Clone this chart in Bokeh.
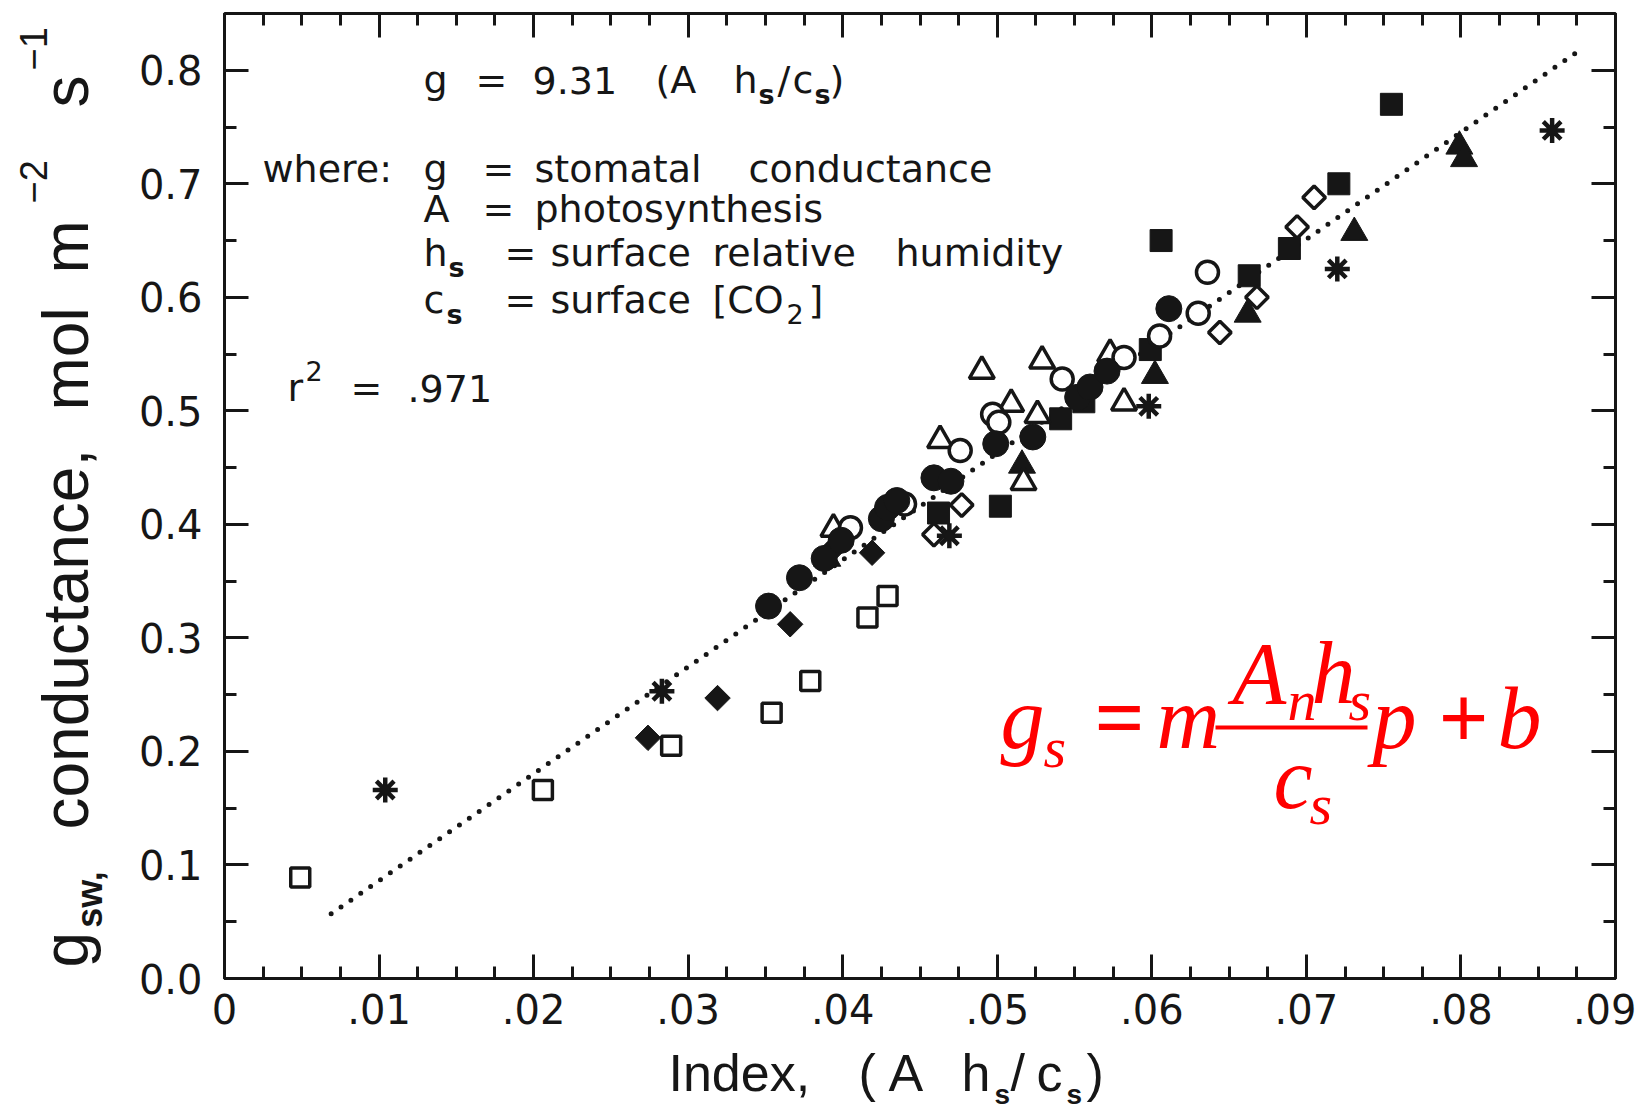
import numpy as np
from bokeh.plotting import figure
from bokeh.layouts import row, column
from bokeh.models import Range1d, FixedTicker, LinearAxis, Label, BoxAnnotation
from bokeh.embed import file_html
from bokeh.resources import INLINE

# ---------------- data ----------------
sq_open_x = [0.0049, 0.0206, 0.0289, 0.0354, 0.0379, 0.0416, 0.0429]
sq_open_y = [0.089, 0.166, 0.205, 0.234, 0.262, 0.318, 0.337]

sq_fill_x = [0.0462, 0.0502, 0.0541, 0.0556, 0.0599, 0.0606, 0.0663, 0.0689, 0.0721, 0.0755]
sq_fill_y = [0.410, 0.416, 0.493, 0.508, 0.554, 0.650, 0.619, 0.643, 0.700, 0.770]

dia_fill_x = [0.0274, 0.0319, 0.0366, 0.0419, 0.0395]
dia_fill_y = [0.212, 0.247, 0.312, 0.375, 0.380]

dia_open_x = [0.0459, 0.0477, 0.0644, 0.0668, 0.0694, 0.0705]
dia_open_y = [0.391, 0.417, 0.569, 0.600, 0.662, 0.688]

circ_fill_x = [0.0352, 0.0372, 0.0388, 0.0399, 0.0425, 0.0429, 0.0435, 0.0459, 0.0470,
               0.0499, 0.0523, 0.0552, 0.0560, 0.0571, 0.0611]
circ_fill_y = [0.328, 0.353, 0.370, 0.386, 0.405, 0.415, 0.421, 0.441, 0.438,
               0.471, 0.477, 0.512, 0.521, 0.535, 0.590]

circ_open_x = [0.0405, 0.0440, 0.0476, 0.0497, 0.0501, 0.0542, 0.0582, 0.0605, 0.0630, 0.0636]
circ_open_y = [0.397, 0.418, 0.465, 0.497, 0.490, 0.528, 0.547, 0.566, 0.586, 0.622]

tri_open_x = [0.0394, 0.0463, 0.0490, 0.0509, 0.0517, 0.0526, 0.0529, 0.0573, 0.0582]
tri_open_y = [0.396, 0.474, 0.535, 0.506, 0.437, 0.496, 0.544, 0.550, 0.507]

tri_fill_x = [0.0390, 0.0516, 0.0602, 0.0662, 0.0731, 0.0799, 0.0802]
tri_fill_y = [0.370, 0.452, 0.531, 0.585, 0.657, 0.733, 0.722]

star_x = [0.0104, 0.0283, 0.0469, 0.0598, 0.0720, 0.0859]
star_y = [0.166, 0.253, 0.390, 0.504, 0.625, 0.747]

fit_x = [0.0069, 0.0874]
fit_y = [0.057, 0.815]

x_ticks = [0.0, 0.01, 0.02, 0.03, 0.04, 0.05, 0.06, 0.07, 0.08, 0.09]
x_tick_labels = ["0", ".01", ".02", ".03", ".04", ".05", ".06", ".07", ".08", ".09"]
y_ticks = [0.0, 0.1, 0.2, 0.3, 0.4, 0.5, 0.6, 0.7, 0.8]
y_tick_labels = ["0.0", "0.1", "0.2", "0.3", "0.4", "0.5", "0.6", "0.7", "0.8"]

# ---------------- layout ----------------
W, H = 1636, 1111
LW = 120            # width of the strip holding the y title
MH = 1043           # height of the main figure
FL, FR, FT, FB = 224, 1615, 13, 978   # frame edges in window pixels
X0, X1, Y0, Y1 = 0.0, 0.09, 0.0, 0.85
INK = "#161616"
SANS = "DejaVu Sans"
TSANS = "Liberation Sans"   # axis titles
MID = 0.35          # distance from text middle to baseline, in em


def xd(px):
    return X0 + (px - FL) / (FR - FL) * (X1 - X0)


def yd(py):
    return Y0 + (FB - py) / (FB - FT) * (Y1 - Y0)


def blank_fig(w, h, xr, yr, top=0, bottom=0):
    f = figure(width=w, height=h, x_range=Range1d(*xr), y_range=Range1d(*yr),
               output_backend="svg", toolbar_location=None,
               x_axis_location=None, y_axis_location=None,
               min_border_left=0, min_border_right=0,
               min_border_top=top, min_border_bottom=bottom)
    f.grid.visible = False
    f.outline_line_color = None
    f.background_fill_color = "white"
    f.border_fill_color = "white"
    return f


p = figure(width=W - LW, height=MH, x_range=Range1d(X0, X1 + 1e-9), y_range=Range1d(Y0, Y1),
           output_backend="svg", toolbar_location=None,
           x_axis_location=None, y_axis_location=None,
           min_border_left=FL - LW, min_border_right=W - FR,
           min_border_top=FT, min_border_bottom=MH - FB)
p.grid.visible = False
p.background_fill_color = "white"
p.border_fill_color = "white"
p.outline_line_color = INK
p.outline_line_width = 3

x_minor = [i * 0.0025 for i in range(37)]
y_minor = [i * 0.05 for i in range(18)]


def make_axis(kind, show_labels):
    ticks, labels, minor = (x_ticks, x_tick_labels, x_minor) if kind == "x" else \
        (y_ticks, y_tick_labels, y_minor)
    if not show_labels:
        labels = [""] * len(ticks)
    ax = LinearAxis(ticker=FixedTicker(ticks=ticks, minor_ticks=minor),
                    major_label_overrides=dict(zip(ticks, labels)))
    ax.axis_line_color = None
    ax.major_tick_line_color = INK
    ax.major_tick_line_width = 3
    ax.major_tick_in = 24
    ax.major_tick_out = 0
    ax.minor_tick_line_color = INK
    ax.minor_tick_line_width = 3
    ax.minor_tick_in = 12
    ax.minor_tick_out = 0
    ax.major_label_text_font = SANS
    ax.major_label_text_color = INK
    if show_labels:
        ax.major_label_text_font_size = "40px"
        ax.major_label_standoff = 15 if kind == "x" else 22
    else:
        ax.major_label_text_font_size = "2px"
        ax.major_label_standoff = 0
    return ax


p.add_layout(make_axis("x", True), "below")
p.add_layout(make_axis("x", False), "above")
p.add_layout(make_axis("y", True), "left")
p.add_layout(make_axis("y", False), "right")

# ---------------- marks ----------------
p.line(fit_x, fit_y, line_color=INK, line_width=5, line_dash="0 12", line_cap="round")

OPEN = dict(fill_color="white", line_color=INK, line_width=3.5)
FILL = dict(fill_color=INK, line_color=INK, line_width=1)

p.scatter(sq_open_x, sq_open_y, marker="square", size=19, **OPEN)
p.scatter(dia_fill_x, dia_fill_y, marker="square", angle=np.pi / 4, size=18, **FILL)
p.scatter(sq_fill_x, sq_fill_y, marker="square", size=22, **FILL)
p.scatter(tri_fill_x, tri_fill_y, marker="triangle", size=27, **FILL)
p.scatter(dia_open_x, dia_open_y, marker="square", angle=np.pi / 4, size=16, **OPEN)
p.scatter(tri_open_x, tri_open_y, marker="triangle", size=25, **OPEN)
p.scatter(circ_open_x, circ_open_y, marker="circle", size=22, **OPEN)
p.scatter(circ_fill_x, circ_fill_y, marker="circle", size=26, **FILL)
p.scatter(star_x, star_y, marker="asterisk", size=25, line_color=INK, line_width=4.5)
p.scatter(star_x, star_y, marker="circle", size=9, **FILL)


# ---------------- texts inside the plot ----------------
def lab(X, Yb, text, size=38, font=SANS, color=INK, style="normal"):
    """X = left edge, Yb = baseline, both in window pixels."""
    p.add_layout(Label(x=xd(X), y=yd(Yb - MID * size), text=text, text_font=font,
                       text_font_size=f"{size}px", text_color=color,
                       text_font_style=style, text_align="left",
                       text_baseline="middle"))


SUB = 27
# line 1
for X, t in [(423, "g"), (475, "="), (532, "9.31"), (655, "(A"), (733, "h"),
             (777, "/"), (792, "c"), (829, ")")]:
    lab(X, 93, t)
lab(758, 103, "s", SUB, style="bold")
lab(814, 103, "s", SUB, style="bold")
# line 2
for X, t in [(262, "where:"), (423, "g"), (482, "="), (534, "stomatal"), (748, "conductance")]:
    lab(X, 182, t)
# line 3
for X, t in [(423, "A"), (482, "="), (534, "photosynthesis")]:
    lab(X, 222, t)
# line 4
for X, t in [(423, "h"), (504, "="), (550, "surface"), (712, "relative"), (895, "humidity")]:
    lab(X, 266, t)
lab(448, 276, "s", SUB, style="bold")
# line 5
for X, t in [(423, "c"), (504, "="), (550, "surface"), (712, "[CO"), (808, "]")]:
    lab(X, 313, t)
lab(446, 323, "s", SUB, style="bold")
lab(786, 323, "2", SUB)
# line 6
for X, t in [(287, "r"), (350, "="), (407, ".971")]:
    lab(X, 401, t)
lab(305, 380, "2", SUB)

# red model equation
SERIF = "Liberation Serif"
RED = "#ff0000"
BIG, SMALL = 88, 58
for X, Y, t, s, st in [(1000, 749, "g", BIG, "italic"), (1043, 767, "s", SMALL, "italic"),
                       (1094, 749, "=", BIG, "bold"), (1156, 749, "m", BIG, "italic"),
                       (1232, 704, "A", BIG, "italic"), (1287, 720, "n", SMALL, "italic"),
                       (1311, 704, "h", BIG, "italic"), (1348, 720, "s", SMALL, "italic"),
                       (1273, 809, "c", BIG, "italic"), (1309, 824, "s", SMALL, "italic"),
                       (1372, 749, "p", BIG, "italic"), (1438, 749, "+", BIG, "bold"),
                       (1497, 749, "b", BIG, "italic")]:
    lab(X, Y, t, s, font=SERIF, color=RED, style=st)
p.add_layout(BoxAnnotation(left=xd(1215), right=xd(1367), bottom=yd(729), top=yd(725),
                           fill_color=RED, fill_alpha=1.0, line_color=None))

# ---------------- y-axis title strip ----------------
# its frame spans the same rows as the main frame, so ranges are window pixels
left = blank_fig(LW, MH, (0, LW), (FB, FT), top=FT, bottom=MH - FB)


def ylab(Xb, Ystart, em, text, size, style="normal"):
    """Xb = baseline x, Ystart = lower end of the rotated text, em = advance width."""
    left.add_layout(Label(x=Xb - MID * size, y=Ystart - em * size / 2, text=text,
                          text_font=TSANS, text_font_size=f"{size}px", text_color=INK,
                          text_font_style=style, text_align="center",
                          text_baseline="middle", angle=np.pi / 2))


ylab(88, 967, 0.556, "g", 64)
ylab(102, 928, 1.612, "sw,", 36, style="bold")
ylab(88, 829, 5.948, "conductance,", 64)
ylab(88, 410, 1.611, "mol", 64)
ylab(88, 273, 0.833, "m", 64)
ylab(46, 203, 1.140, "\u22122", 38)
ylab(88, 107, 0.500, "s", 64)
ylab(46, 70, 1.140, "\u22121", 38)

# ---------------- x-axis title strip (window pixel coordinates) ----------------
bottom = blank_fig(W, H - MH, (0, W), (H, MH))


def xlab(X, Yb, text, size, style="normal"):
    bottom.add_layout(Label(x=X, y=Yb - MID * size, text=text, text_font=TSANS,
                            text_font_size=f"{size}px", text_color=INK,
                            text_font_style=style, text_align="left",
                            text_baseline="middle"))


for X, t in [(668, "Index,"), (858, "("), (888, "A"), (961, "h"), (1010, "/"),
             (1036, "c"), (1086, ")")]:
    xlab(X, 1091, t, 52)
xlab(994, 1104, "s", 28, style="bold")
xlab(1066, 1104, "s", 28, style="bold")

layout = column(row(left, p), bottom)
open("out.html", "w").write(file_html(layout, INLINE))
